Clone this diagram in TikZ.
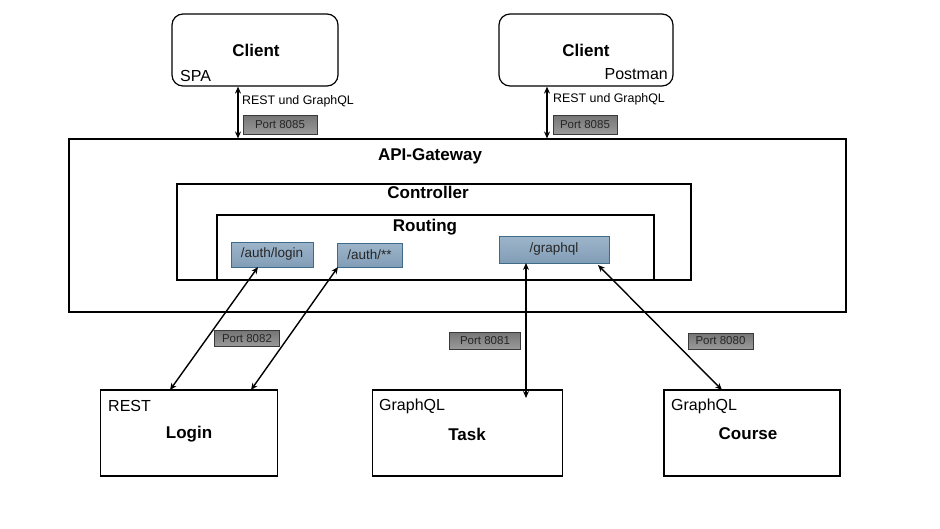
\documentclass[tikz,border=0pt]{standalone}
\usepackage{fontspec}
\setmainfont{Liberation Sans}
\usetikzlibrary{arrows.meta,calc}
\definecolor{routetop}{HTML}{9DB5CA}
\definecolor{routebot}{HTML}{819DB6}
\definecolor{routeline}{HTML}{3F6B8B}
\definecolor{porttop}{HTML}{757575}
\definecolor{portbot}{HTML}{9A9A9A}
\definecolor{portline}{HTML}{3A3A3A}
\tikzset{
  box/.style={draw=black, line width=1.2pt, fill=white, inner sep=0pt},
  client/.style={box, rounded corners=11pt},
  route/.style={draw=routeline, line width=0.9pt, top color=routetop, bottom color=routebot, inner sep=0pt, font=\fontsize{13.5}{15}\selectfont, text=black!85},
  port/.style={draw=portline, line width=0.8pt, top color=porttop, bottom color=portbot, inner sep=0pt, font=\fontsize{11.5}{13}\selectfont, text=black!85},
  title/.style={font=\bfseries\fontsize{17}{19}\selectfont, inner sep=0pt},
  plain/.style={font=\fontsize{16}{18}\selectfont, inner sep=0pt},
  small/.style={font=\fontsize{12.4}{14}\selectfont, inner sep=0pt},
  conn/.style={line width=1.4pt, {Stealth[length=7pt,width=6pt]}-{Stealth[length=7pt,width=6pt]}}
}
\begin{document}
\begin{tikzpicture}[x=1pt,y=-1pt]
\useasboundingbox (0,0) rectangle (940,528);
% clients
\node[client, minimum width=166pt, minimum height=72pt] (spa) at (255,50) {};
\node[client, minimum width=174pt, minimum height=72pt] (pm) at (586,50) {};
\node[title] (spat) at (256,50.5) {Client};
\node[title] (pmt) at (586,50.5) {Client};
\node[plain, anchor=west] (spal) at (180,76) {SPA};
\node[plain, anchor=east] (pml) at (668,74) {Postman};
% gateway
\node[box, line width=1.1pt, minimum width=777pt, minimum height=173pt] (gw) at (457.5,225.5) {};
\node[title] (gwt) at (430,156.5) {API-Gateway};
\node[box, minimum width=514pt, minimum height=96pt] (ctrl) at (434,232) {};
\node[title] (ctrlt) at (428,192.5) {Controller};
\node[box, line width=1.4pt, minimum width=437pt, minimum height=65pt] (rt) at (435.5,247.5) {};
\node[title] (rtt) at (425,227.5) {Routing};
\node[route, minimum width=82pt, minimum height=25pt] (rlogin) at (272,254.5) {/auth/login};
\node[route, minimum width=65pt, minimum height=24pt] (rauth) at (369.5,255) {/auth/**};
\node[route, minimum width=110pt, minimum height=27pt] (rgql) at (554,249.5) {/graphql};
% services
\node[box, minimum width=177pt, minimum height=86pt] (login) at (189,433) {};
\node[box, minimum width=190pt, minimum height=86pt] (task) at (467.5,433) {};
\node[box, minimum width=176pt, minimum height=86pt] (course) at (752,433) {};
\node[plain, anchor=west] (loginl) at (108,406) {REST};
\node[plain, anchor=west] (taskl) at (379,406) {GraphQL};
\node[plain, anchor=west] (coursel) at (671,406) {GraphQL};
\node[title] (logint) at (189,434) {Login};
\node[title] (taskt) at (467,434) {Task};
\node[title] (courset) at (748,434) {Course};
% top connectors
\coordinate (a1) at (238,0);
\coordinate (a2) at (547,0);
\draw[conn] (spa.south -| a1) -- (gw.north -| a1);
\draw[conn] (pm.south -| a2) -- (gw.north -| a2);
\node[small, anchor=west] (rg1) at (242,101) {REST und GraphQL};
\node[small, anchor=west] (rg2) at (553,99.5) {REST und GraphQL};
\node[port, minimum width=74pt, minimum height=19pt] (p1) at (280,124.5) {Port 8085};
\node[port, minimum width=64pt, minimum height=19pt] (p2) at (585,124.5) {Port 8085};
% bottom connectors
\coordinate (l1) at (170,390);
\coordinate (l2) at (251,390);
\coordinate (r1) at (258,267);
\coordinate (r2) at (338,267);
\coordinate (g1) at (526,263);
\coordinate (t1) at (526,398);
\coordinate (g2) at (598,265);
\coordinate (c1) at (722,390);
\draw[conn] (l1) -- (r1);
\draw[conn] (l2) -- (r2);
\draw[conn] (g1) -- (t1);
\draw[conn] (g2) -- (c1);
\node[port, minimum width=65pt, minimum height=16pt] (p82) at (247,338.5) {Port 8082};
\node[port, minimum width=71pt, minimum height=17pt] (p81) at (485,340.5) {Port 8081};
\node[port, minimum width=65pt, minimum height=16pt] (p80) at (720.5,341) {Port 8080};
\end{tikzpicture}
\end{document}
